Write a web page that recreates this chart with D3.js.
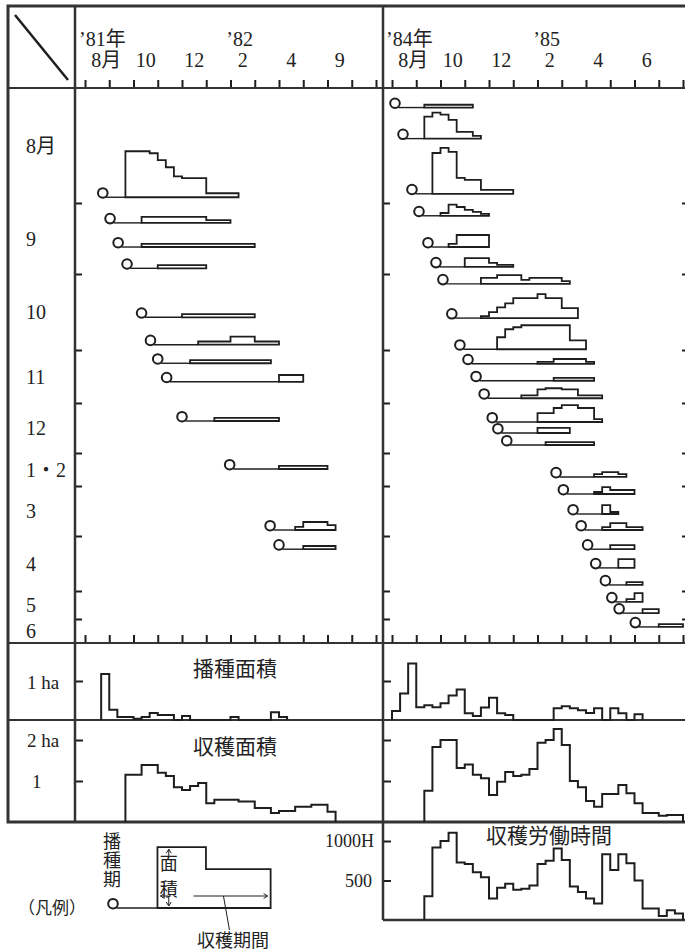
<!DOCTYPE html>
<html>
<head>
<meta charset="utf-8">
<script src="https://cdn.jsdelivr.net/npm/d3@7"></script>
<style>
  body { margin: 0; background: #fff; }
  text { font-family: "Liberation Serif", "Noto Sans CJK JP", serif; fill: #222; }
</style>
</head>
<body>
<svg id="chart" width="685" height="951"></svg>
<script>
// ---- axes / labels (x unit = 旬 from 1 Aug, 3 per month; y unit = month from 1 Aug) ----
const xTicks = d3.range(0, 37, 3);
const leftTopLabels = ["8月", "10", "12", "2", "4", "9"];
const rightTopLabels = ["8月", "10", "12", "2", "4", "6"];
const topLabelPos = [1.5, 7.5, 13.5, 19.5, 25.5, 31.5];
const leftYears = ["’81年", "’82"];
const rightYears = ["’84年", "’85"];
const monthBounds = [1, 2, 3, 4, 5, 7, 8, 9, 10];
const rowMonthLabels = ["8月", "9", "10", "11", "12", "1・2", "3", "4", "5", "6"];
const rowMonthPos = [0.5, 1.5, 2.5, 3.5, 4.5, 6, 7.5, 8.5, 9.5, 10.5];

// ---- left panel ('81-'82): row position, sowing date, harvest start, harvest areas (ha per 旬) ----
const leftRowPos = [0.95, 1.28, 1.62, 1.92, 2.57, 2.93, 3.25, 3.6, 4.36, 5.97, 7.88, 8.24];
const leftSow = [2.2, 3.1, 4.1, 5.2, 7.0, 8.1, 9.0, 10.1, 12.0, 17.9, 22.9, 24.0];
const leftStart = [5, 7, 7, 9, 12, 14, 13, 24, 16, 24, 26, 27];
const leftAreas = [
  [1.15, 1.15, 1.15, 1.1, 0.93, 0.75, 0.52, 0.48, 0.48, 0.48, 0.1, 0.1, 0.1, 0.1],
  [0.15, 0.15, 0.15, 0.15, 0.15, 0.15, 0.15, 0.15, 0.07, 0.07, 0.07],
  [0.08, 0.08, 0.08, 0.08, 0.08, 0.08, 0.08, 0.08, 0.08, 0.08, 0.08, 0.08, 0.08, 0.08],
  [0.08, 0.08, 0.08, 0.08, 0.08, 0.08],
  [0.08, 0.08, 0.08, 0.08, 0.08, 0.08, 0.08, 0.08, 0.08],
  [0.08, 0.08, 0.08, 0.08, 0.2, 0.2, 0.2, 0.08, 0.08, 0.08],
  [0.08, 0.08, 0.08, 0.08, 0.08, 0.08, 0.08, 0.08, 0.08, 0.08],
  [0.17, 0.17, 0.17],
  [0.08, 0.08, 0.08, 0.08, 0.08, 0.08, 0.08, 0.08],
  [0.08, 0.08, 0.08, 0.08, 0.08, 0.08],
  [0.08, 0.2, 0.2, 0.2, 0.12],
  [0.08, 0.08, 0.08, 0.08]
];

// ---- right panel ('84-'85) ----
const rightRowPos = [0.17, 0.44, 0.92, 1.18, 1.62, 1.9, 2.13, 2.58, 2.99, 3.26, 3.58, 3.91, 4.38,
  4.6, 4.84, 6.45, 7.16, 7.56, 7.88, 8.24, 8.58, 8.89, 9.39, 9.79, 10.33];
const rightSow = [0.37, 1.36, 2.47, 3.34, 4.45, 5.44, 6.3, 7.4, 8.4, 9.4, 10.4, 11.4, 12.4,
  13.1, 14.2, 20.3, 21.2, 22.4, 23.4, 24.2, 25.2, 26.4, 27.2, 28.1, 30.1];
const rightStart = [4, 4, 5, 6, 7, 9, 11, 11, 13, 18, 20, 16, 18, 18, 19, 25, 25, 26, 26, 27, 28, 29, 29, 31, 33];
const rightAreas = [
  [0.07, 0.07, 0.07, 0.07, 0.07, 0.07],
  [0.55, 0.65, 0.6, 0.47, 0.17, 0.17, 0.07],
  [1.02, 1.15, 1.05, 0.4, 0.35, 0.35, 0.1, 0.1, 0.1, 0.1],
  [0.07, 0.28, 0.22, 0.15, 0.1, 0.05],
  [0.08, 0.3, 0.3, 0.3, 0.3],
  [0.22, 0.22, 0.22, 0.1, 0.05, 0.05],
  [0.15, 0.15, 0.22, 0.22, 0.22, 0.1, 0.15, 0.15, 0.15, 0.15, 0.07],
  [0.05, 0.15, 0.27, 0.37, 0.5, 0.5, 0.5, 0.6, 0.5, 0.5, 0.25, 0.25],
  [0.3, 0.5, 0.55, 0.6, 0.6, 0.6, 0.6, 0.6, 0.6, 0.22, 0.22],
  [0.05, 0.05, 0.12, 0.12, 0.12, 0.12, 0.05],
  [0.07, 0.07, 0.07, 0.07, 0.07],
  [0.07, 0.07, 0.22, 0.25, 0.25, 0.22, 0.22, 0.07, 0.07, 0.07],
  [0.22, 0.22, 0.35, 0.42, 0.42, 0.35, 0.35, 0.07],
  [0.13, 0.13, 0.13, 0.13],
  [0.07, 0.07, 0.07, 0.07, 0.07, 0.07],
  [0.07, 0.12, 0.12, 0.07],
  [0.05, 0.17, 0.1, 0.1, 0.1],
  [0.22, 0.05],
  [0.07, 0.17, 0.17, 0.07, 0.07],
  [0.1, 0.1, 0.1],
  [0.22, 0.22],
  [0.07, 0.07],
  [0.07, 0.22],
  [0.1, 0.1],
  [0.07, 0.07, 0.07]
];

// ---- totals per 旬 ----
const leftSowAreaStart = 2;
const leftSowArea = [1.18, 0.26, 0.08, 0.08, 0.03, 0.08, 0.18, 0.13, 0.13, 0, 0.1, 0, 0, 0, 0, 0,
  0.08, 0, 0, 0, 0, 0.2, 0.08];
const rightSowAreaStart = 0;
const rightSowArea = [0.23, 0.68, 1.45, 0.33, 0.38, 0.33, 0.43, 0.63, 0.78, 0.17, 0.1, 0.32, 0.57,
  0.17, 0.13, 0, 0, 0, 0, 0, 0.3, 0.35, 0.3, 0.25, 0.18, 0.3, 0, 0.3, 0.17, 0, 0.15];
const leftHarvAreaStart = 5;
const leftHarvArea = [1.15, 1.15, 1.39, 1.39, 1.2, 1.12, 0.85, 0.78, 0.88, 0.95, 0.46, 0.54, 0.54,
  0.54, 0.5, 0.5, 0.34, 0.34, 0.22, 0.27, 0.27, 0.37, 0.37, 0.42, 0.42, 0.25];
const rightHarvAreaStart = 4;
const rightHarvArea = [0.76, 1.83, 2.0, 2.0, 1.32, 1.4, 1.15, 1.07, 0.66, 0.98, 1.22, 1.12, 1.15,
  1.29, 1.93, 2.0, 2.27, 1.88, 1.0, 0.85, 0.51, 0.37, 0.68, 0.68, 0.9, 0.7, 0.46, 0.22, 0.22,
  0.15, 0.17, 0.17];
const rightLaborStart = 4;
const rightLabor = [300, 917, 1000, 1104, 729, 708, 604, 542, 271, 408, 458, 383, 396, 438, 708,
  750, 904, 758, 425, 354, 271, 208, 833, 633, 833, 717, 500, 146, 146, 50, 125, 83];

// legend example
const legendStart = 5.5;
const legendAreas = [1.52, 1.52, 1.52, 1.52, 1.52, 1.52, 0.97, 0.97, 0.97, 0.97, 0.97, 0.97, 0.97, 0.97];

// ---- layout ----
const svg = d3.select("#chart");
const ink = "#1e1e1e";

const xL = d3.scaleLinear().domain([0, 36]).range([85, 376]);
const xR = d3.scaleLinear().domain([0, 36]).range([392, 683]);
const yMain = d3.scaleLinear()
  .domain([0, 1, 2, 3, 4, 5, 7, 8, 9, 10, 11])
  .range([88, 203, 274, 350, 403, 453, 486, 536, 591, 619, 643]);
const hArea = d3.scaleLinear().domain([0, 1]).range([0, 40]);
const ySow = d3.scaleLinear().domain([0, 1]).range([720, 681]);
const yHarv = d3.scaleLinear().domain([0, 2]).range([822, 740]);
const yLab = d3.scaleLinear().domain([0, 1000]).range([920, 841]);
const xLeg = d3.scaleLinear().domain([0, 36]).range([113, 404]);

// frame
const frame = svg.append("g").attr("stroke", "#333").attr("fill", "none");
frame.append("path").attr("stroke-width", 3)
  .attr("d", "M686,6H8V822H686");
[[75, 6, 75, 822], [383, 6, 383, 920]].forEach(l =>
  frame.append("line").attr("x1", l[0]).attr("y1", l[1]).attr("x2", l[2]).attr("y2", l[3])
    .attr("stroke-width", 2.5));
[88, 643, 720].forEach(y =>
  frame.append("line").attr("x1", 8).attr("x2", 686).attr("y1", y).attr("y2", y).attr("stroke-width", 2.2));
frame.append("path").attr("stroke-width", 2.5).attr("d", "M383,920H686");
frame.append("line").attr("x1", 15).attr("y1", 15).attr("x2", 68).attr("y2", 80)
  .attr("stroke", ink).attr("stroke-width", 2.5);

// x ticks (header and bottom of main panel)
function xTickAxes(xs) {
  [87, 642].forEach(y =>
    svg.append("g").attr("transform", `translate(0,${y})`)
      .call(d3.axisTop(xs).tickValues(xTicks).tickSize(7).tickFormat(""))
      .call(g => g.select(".domain").remove())
      .selectAll("line").attr("stroke", ink).attr("stroke-width", 2));
}
xTickAxes(xL);
xTickAxes(xR);

// header labels
function headerLabels(xs, labels, years) {
  labels.forEach((t, i) => {
    const first = i === 0;
    svg.append("text").attr("x", first ? xs(topLabelPos[i]) - 6 : xs(topLabelPos[i]))
      .attr("y", 67).attr("font-size", 20)
      .attr("text-anchor", first ? "start" : "middle").text(t);
  });
  svg.append("text").attr("x", xs(0) - 6).attr("y", 46).attr("font-size", 20).text(years[0]);
  svg.append("text").attr("x", xs(19.5) - 3).attr("y", 46).attr("font-size", 20)
    .attr("text-anchor", "middle").text(years[1]);
}
headerLabels(xL, leftTopLabels, leftYears);
headerLabels(xR, rightTopLabels, rightYears);

// y ticks
function yTicks(x, scale, values, size, dir) {
  const ax = dir > 0 ? d3.axisRight(scale) : d3.axisLeft(scale);
  svg.append("g").attr("transform", `translate(${x},0)`)
    .call(ax.tickValues(values).tickSize(size).tickFormat(""))
    .call(g => g.select(".domain").remove())
    .selectAll("line").attr("stroke", ink).attr("stroke-width", 2);
}
yTicks(76, yMain, monthBounds, 6, 1);
yTicks(384, yMain, monthBounds, 6, 1);
yTicks(685, yMain, monthBounds, 3, -1);
yTicks(76, ySow, [1], 7, 1);
yTicks(384, ySow, [1], 7, 1);
yTicks(76, yHarv, [1, 2], 7, 1);
yTicks(384, yHarv, [1, 2], 7, 1);
yTicks(384, yLab, [500, 1000], 7, 1);

// row labels in left column
rowMonthLabels.forEach((t, i) =>
  svg.append("text").attr("x", 26).attr("y", yMain(rowMonthPos[i])).attr("dy", "0.35em")
    .attr("font-size", 20).text(t));
svg.append("text").attr("x", 27).attr("y", ySow(1)).attr("dy", "0.4em").attr("font-size", 19).text("1 ha");
svg.append("text").attr("x", 27).attr("y", yHarv(2)).attr("dy", "0.35em").attr("font-size", 19).text("2 ha");
svg.append("text").attr("x", 32).attr("y", yHarv(1)).attr("dy", "0.35em").attr("font-size", 19).text("1");
svg.append("text").attr("x", 374).attr("y", yLab(1000)).attr("dy", "0.35em").attr("font-size", 18)
  .attr("text-anchor", "end").text("1000H");
svg.append("text").attr("x", 372).attr("y", yLab(500)).attr("dy", "0.35em").attr("font-size", 18)
  .attr("text-anchor", "end").text("500");

// panel titles
svg.append("text").attr("x", 235).attr("y", 676).attr("font-size", 21).attr("text-anchor", "middle").text("播種面積");
svg.append("text").attr("x", 235).attr("y", 754).attr("font-size", 21).attr("text-anchor", "middle").text("収穫面積");
svg.append("text").attr("x", 549).attr("y", 843).attr("font-size", 21).attr("text-anchor", "middle").text("収穫労働時間");

// one crop row: sowing circle, waiting line, stepped harvest area
const line = d3.line();
function stepPoints(xs, y0, hy, start, vals) {
  const pts = [[xs(start), y0]];
  vals.forEach((v, i) => {
    pts.push([xs(start + i), hy(v)]);
    pts.push([xs(start + i + 1), hy(v)]);
  });
  pts.push([xs(start + vals.length), y0]);
  return pts;
}
function drawRow(g, xs, y0, sow, start, vals) {
  const r = 4.8;
  g.append("line").attr("x1", xs(sow) + r * 0.7).attr("x2", xs(start))
    .attr("y1", y0).attr("y2", y0).attr("stroke", ink).attr("stroke-width", 1.4);
  g.append("path").attr("d", line(stepPoints(xs, y0, v => y0 - hArea(v), start, vals)) + "Z")
    .attr("fill", "none").attr("stroke", ink).attr("stroke-width", 1.8)
    .attr("stroke-linejoin", "miter");
  g.append("circle").attr("cx", xs(sow)).attr("cy", y0 - r + 0.5).attr("r", r)
    .attr("fill", "#fff").attr("stroke", ink).attr("stroke-width", 2);
}
const rowsG = svg.append("g");
leftRowPos.forEach((p, i) => drawRow(rowsG, xL, yMain(p), leftSow[i], leftStart[i], leftAreas[i]));
rightRowPos.forEach((p, i) => drawRow(rowsG, xR, yMain(p), rightSow[i], rightStart[i], rightAreas[i]));

// totals panels
function drawTotal(xs, ys, start, vals) {
  svg.append("path").attr("d", line(stepPoints(xs, ys(0), ys, start, vals)))
    .attr("fill", "none").attr("stroke", ink).attr("stroke-width", 2);
}
drawTotal(xL, ySow, leftSowAreaStart, leftSowArea);
drawTotal(xR, ySow, rightSowAreaStart, rightSowArea);
drawTotal(xL, yHarv, leftHarvAreaStart, leftHarvArea);
drawTotal(xR, yHarv, rightHarvAreaStart, rightHarvArea);
drawTotal(xR, yLab, rightLaborStart, rightLabor);

// ---- legend ----
const legG = svg.append("g");
const legBase = 908;
drawRow(legG, xLeg, legBase, 0, legendStart, legendAreas);
svg.append("text").attr("x", 18).attr("y", 914).attr("font-size", 17).text("（凡例）");
["播", "種", "期"].forEach((c, i) =>
  svg.append("text").attr("x", 112).attr("y", 848 + i * 19).attr("font-size", 18)
    .attr("text-anchor", "middle").text(c));
const ax = xLeg(legendStart + 1.4);
const legTop = legBase - hArea(1.52);
const arrow = svg.append("g").attr("stroke", ink).attr("stroke-width", 1).attr("fill", "none");
arrow.append("path").attr("d", `M${ax},${legTop + 2}V${legTop + 9}`);
arrow.append("path").attr("d", `M${ax - 2.5},${legTop + 6}L${ax},${legTop + 2}L${ax + 2.5},${legTop + 6}`);
arrow.append("path").attr("d", `M${ax},${legBase - 12}V${legBase - 2}`);
arrow.append("path").attr("d", `M${ax - 2.5},${legBase - 6}L${ax},${legBase - 2}L${ax + 2.5},${legBase - 6}`);
const ay = legBase - 12;
const xa0 = xLeg(legendStart) + 3, xa1 = xLeg(legendStart + legendAreas.length) - 3;
arrow.append("path").attr("d", `M${xa0},${ay}H${xa0 + 8}M${xa0 + 4},${ay - 2.5}L${xa0},${ay}L${xa0 + 4},${ay + 2.5}`);
arrow.append("path").attr("d", `M${xa0 + 33},${ay}H${xa1}M${xa1 - 4},${ay - 2.5}L${xa1},${ay}L${xa1 - 4},${ay + 2.5}`);
arrow.append("path").attr("d", `M${xa0 + 63},${ay}L${xa0 + 69},${ay + 34}`);
svg.append("text").attr("x", ax).attr("y", legBase - 38).attr("font-size", 18).attr("text-anchor", "middle").text("面");
svg.append("text").attr("x", ax).attr("y", legBase - 12).attr("font-size", 18).attr("text-anchor", "middle").text("積");
svg.append("text").attr("x", 233).attr("y", 947).attr("font-size", 18).attr("text-anchor", "middle").text("収穫期間");
</script>
</body>
</html>
